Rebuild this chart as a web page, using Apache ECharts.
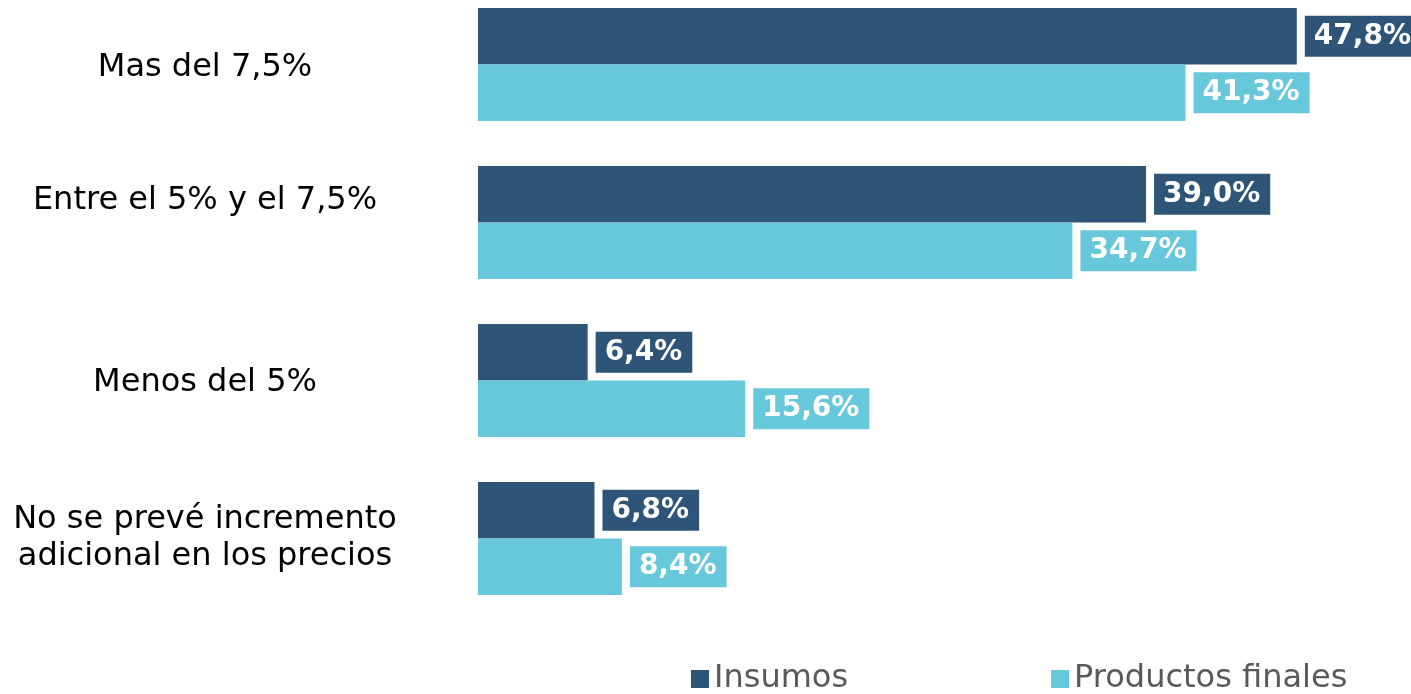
<!DOCTYPE html>
<html>
<head>
<meta charset="utf-8">
<style>
  html, body { margin: 0; padding: 0; background: #ffffff; }
  #chart { width: 1411px; height: 694px; }
</style>
<script src="https://cdn.jsdelivr.net/npm/echarts@6/dist/echarts.min.js"></script>
</head>
<body>
<div id="chart"></div>
<script>
// Expected price increase ranges (top to bottom)
const categories = [
  'Mas del 7,5%',
  'Entre el 5% y el 7,5%',
  'Menos del 5%',
  'No se prevé incremento\nadicional en los precios'
];
const seriesNames = ['Insumos', 'Productos finales'];
const insumos = [47.8, 39.0, 6.4, 6.8];
const productosFinales = [41.3, 34.7, 15.6, 8.4];
const colors = ['#2E5478', '#68C8DB'];

// Vertical nudge (px) of each single-line category label from its group centre
const labelNudge = [3.5, -21.5, 2, 0];

const fmt = p => p.value.toFixed(1).replace('.', ',') + '%';

const categoryLabelStyle = {
  align: 'center',
  verticalAlign: 'middle',
  color: '#000000',
  fontFamily: 'DejaVu Sans',
  fontSize: 32,
  lineHeight: 37
};

// A single line drawn in a box of height 2|n| anchored at its top or bottom
// ends up with its centre n px below (or above) the group centre.
const yAxisData = categories.map((c, i) => {
  const n = labelNudge[i];
  const style = Object.assign({}, categoryLabelStyle);
  if (n !== 0) {
    style.verticalAlign = n > 0 ? 'top' : 'bottom';
    style.lineHeight = Math.abs(2 * n);
  }
  return { value: c, textStyle: style };
});

function makeSeries(name, data, color) {
  return {
    name: name,
    type: 'bar',
    data: data,
    barWidth: 56.5,
    barGap: '0%',
    itemStyle: { color: color },
    label: {
      show: true,
      position: 'right',
      distance: 8,
      formatter: fmt,
      color: '#ffffff',
      fontFamily: 'DejaVu Sans',
      fontWeight: 'bold',
      fontSize: 28,
      backgroundColor: color,
      padding: [5, 10, 4, 9],
      lineHeight: 32
    }
  };
}

const chart = echarts.init(document.getElementById('chart'));
chart.setOption({
  animation: false,
  grid: {
    left: 478, right: 0, top: -14.5, height: 632,
    outerBoundsMode: 'none', containLabel: false
  },
  xAxis: {
    type: 'value',
    min: 0,
    max: (1411 - 478) / 17.13,
    show: false
  },
  yAxis: {
    type: 'category',
    data: yAxisData,
    inverse: true,
    axisLine: { show: false },
    axisTick: { show: false },
    axisLabel: Object.assign({ margin: 273 }, categoryLabelStyle)
  },
  legend: {
    data: seriesNames,
    left: 686,
    top: 658,
    icon: 'rect',
    itemWidth: 18,
    itemHeight: 18,
    itemGap: 203,
    textStyle: {
      color: '#595959',
      fontFamily: 'DejaVu Sans',
      fontSize: 32
    }
  },
  series: [
    makeSeries(seriesNames[0], insumos, colors[0]),
    makeSeries(seriesNames[1], productosFinales, colors[1])
  ]
});
</script>
</body>
</html>
